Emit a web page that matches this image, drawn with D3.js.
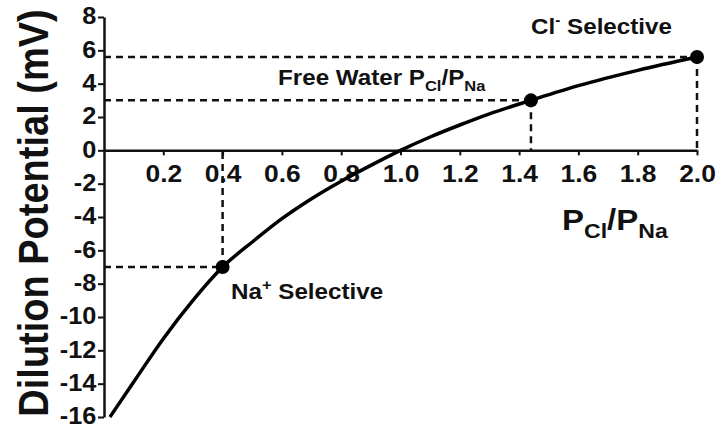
<!DOCTYPE html>
<html>
<head>
<meta charset="utf-8">
<script src="https://cdn.jsdelivr.net/npm/d3@7"></script>
<style>
  body { margin: 0; background: #fff; }
  svg { display: block; }
  text { font-family: "Liberation Sans", Arial, sans-serif; font-weight: bold; fill: #111; }
</style>
</head>
<body>
<div id="chart"></div>
<script>
// curve: P_Cl/P_Na ratio vs dilution potential (mV)
const ratio = [0.02, 0.1, 0.2, 0.3, 0.4, 0.5, 0.6, 0.7, 0.8, 0.9, 1.0, 1.1, 1.2, 1.3, 1.44, 1.6, 1.8, 2.0];
const potential = [-16, -13.9, -11.3, -9.0, -7.0, -5.5, -4.1, -2.9, -1.85, -0.9, 0, 0.8, 1.52, 2.19, 3.0, 3.88, 4.8, 5.6];

// marked points
const markRatio = [0.4, 1.44, 2.0];
const markPotential = [-7, 3.0, 5.6];

const xTicks = [0.2, 0.4, 0.6, 0.8, 1.0, 1.2, 1.4, 1.6, 1.8, 2.0];
const yTicks = [-16, -14, -12, -10, -8, -6, -4, -2, 0, 2, 4, 6, 8];

const width = 723, height = 429;
const stretch = 1.1;  // the source image is a bit wide

const x = d3.scaleLinear().domain([0, 2.0]).range([104, 697]);
const y = d3.scaleLinear().domain([-16, 8]).range([417, 17]);

const svg = d3.select("#chart").append("svg")
    .attr("width", width)
    .attr("height", height);

// axes
const yAxis = d3.axisLeft(y).tickValues(yTicks).tickSize(6).tickSizeOuter(0).tickPadding(1)
    .tickFormat(d => String(d));
const yg = svg.append("g")
    .attr("transform", `translate(${x(0)},0)`)
    .call(yAxis);
yg.selectAll("text")
    .style("font-size", "23px")
    .attr("dy", "0.3em")
    .attr("transform", `scale(${stretch},1)`);

const xAxis = d3.axisBottom(x).tickValues(xTicks).tickSize(5).tickSizeOuter(0).tickPadding(10)
    .tickFormat(d => d.toFixed(1));
const xg = svg.append("g")
    .attr("transform", `translate(0,${y(0)})`)
    .call(xAxis);
xg.selectAll("text")
    .style("font-size", "24px")
    .attr("transform", `scale(${stretch},1)`);

[yg, xg].forEach(g => {
  g.select(".domain").attr("stroke", "#111").attr("stroke-width", 2.5);
  g.selectAll(".tick line").attr("stroke", "#111").attr("stroke-width", 2);
  g.selectAll(".tick text").attr("fill", "#111");
});

// dashed guide lines
const guides = svg.append("g")
    .attr("stroke", "#111")
    .attr("stroke-width", 2.5)
    .attr("stroke-dasharray", "7,5")
    .attr("fill", "none");

markRatio.forEach((r, i) => {
  const v = markPotential[i];
  guides.append("line")
      .attr("x1", x(0)).attr("x2", x(r))
      .attr("y1", y(v)).attr("y2", y(v));
  guides.append("line")
      .attr("x1", x(r)).attr("x2", x(r))
      .attr("y1", y(v)).attr("y2", y(0));
});

// curve
const pts = ratio.map((r, i) => [r, potential[i]]);
svg.append("path")
    .datum(pts)
    .attr("fill", "none")
    .attr("stroke", "#000")
    .attr("stroke-width", 3.5)
    .attr("d", d3.line().x(d => x(d[0])).y(d => y(d[1])).curve(d3.curveMonotoneX));

// points
svg.append("g").selectAll("circle")
  .data(markRatio)
  .join("circle")
    .attr("cx", d => x(d))
    .attr("cy", (d, i) => y(markPotential[i]))
    .attr("r", 7)
    .attr("fill", "#000");

// text helper: parts = [[text, size, dy]]
function label(px, py, parts, size) {
  const t = svg.append("text")
      .attr("transform", `translate(${px},${py}) scale(${stretch},1)`)
      .style("font-size", size + "px");
  parts.forEach(p => {
    t.append("tspan")
      .attr("dy", p[2] || 0)
      .style("font-size", (p[1] || size) + "px")
      .text(p[0]);
  });
  return t;
}

label(531, 34, [["Cl"], ["-", 14, -9], [" Selective", 22, 9]], 22);
label(278, 85, [["Free Water P"], ["Cl", 15, 6], ["/P", 22, -6], ["Na", 15, 6]], 22);
label(231, 299, [["Na"], ["+", 15, -9], [" Selective", 22, 9]], 22);
label(562, 230, [["P"], ["Cl", 21, 8], ["/P", 30, -8], ["Na", 21, 8]], 30);

// y title
svg.append("text")
    .attr("transform", `translate(48,213) scale(${stretch},1) rotate(-90)`)
    .attr("text-anchor", "middle")
    .style("font-size", "38px")
    .text("Dilution Potential (mV)");
</script>
</body>
</html>
